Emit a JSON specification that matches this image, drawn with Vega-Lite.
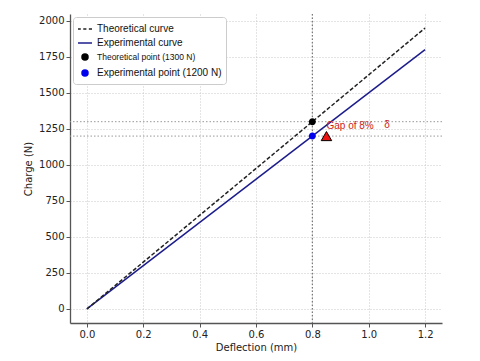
{
  "$schema": "https://vega.github.io/schema/vega-lite/v6.json",
  "width": 372,
  "height": 309,
  "autosize": "none",
  "padding": {"left": 70, "top": 14, "right": 38, "bottom": 38},
  "background": "white",
  "config": {
    "view": {"stroke": null},
    "font": "DejaVu Sans",
    "axis": {
      "labelFont": "DejaVu Sans",
      "labelFontSize": 10,
      "labelColor": "#222222",
      "titleFont": "DejaVu Sans",
      "titleFontSize": 10,
      "titleFontWeight": "normal",
      "titleColor": "#222222",
      "domainColor": "#555555",
      "domainWidth": 1.3,
      "tickColor": "#555555",
      "tickSize": 4,
      "gridColor": "#bbbbbb",
      "gridDash": [1, 2],
      "gridWidth": 0.8
    }
  },
  "datasets": {
    "curves": [
      {"x": 0, "y": 0, "series": "Theoretical curve"},
      {"x": 1.2, "y": 1950, "series": "Theoretical curve"},
      {"x": 0, "y": 0, "series": "Experimental curve"},
      {"x": 1.2, "y": 1800, "series": "Experimental curve"}
    ],
    "points": [
      {"x": 0.8, "y": 1300, "series": "Theoretical point (1300 N)"},
      {"x": 0.8, "y": 1200, "series": "Experimental point (1200 N)"}
    ],
    "hlines": [{"y": 1300}, {"y": 1200}],
    "vlines": [{"x": 0.8}],
    "marker": [{"x": 0.85, "y": 1200}],
    "notes": [{"x": 0.85, "y": 1268, "label": "Gap of 8%"}, {"x": 1.055, "y": 1278, "label": "δ"}]
  },
  "layer": [
    {
      "data": {"name": "curves"},
      "transform": [{"filter": "datum.series == 'Experimental curve'"}],
      "mark": {"type": "line", "strokeWidth": 1.5},
      "encoding": {
        "x": {
          "field": "x", "type": "quantitative", "title": "Deflection (mm)",
          "scale": {"domain": [-0.06, 1.26], "nice": false, "zero": false},
          "axis": {"orient": "bottom", "values": [0, 0.2, 0.4, 0.6, 0.8, 1.0, 1.2], "format": ".1f", "titlePadding": 3}
        },
        "y": {
          "field": "y", "type": "quantitative", "title": "Charge (N)",
          "scale": {"domain": [-97.5, 2047.5], "nice": false, "zero": false},
          "axis": {"orient": "left", "values": [0, 250, 500, 750, 1000, 1250, 1500, 1750, 2000], "format": "d", "titlePadding": 5}
        },
        "color": {
          "field": "series", "type": "nominal",
          "scale": {
            "domain": ["Theoretical curve", "Experimental curve", "Theoretical point (1300 N)", "Experimental point (1200 N)"],
            "range": ["#222222", "#1c1c8c", "#000000", "#0000ee"]
          },
          "legend": {
            "title": null,
            "orient": "top-left",
            "offset": 3,
            "padding": 4,
            "rowPadding": 1,
            "fillColor": "white",
            "strokeColor": "#cccccc",
            "cornerRadius": 3,
            "labelFont": "Liberation Sans",
            "labelFontSize": 10,
            "labelColor": "#111111",
            "labelLimit": 200,
            "labelOffset": 4,
            "symbolSize": 196,
            "symbolStrokeWidth": 1.5,
            "encode": {
              "labels": {"update": {
                "fontSize": [{"test": "datum.label == 'Theoretical point (1300 N)'", "value": 8.5}, {"value": 10}]
              }}
            }
          }
        }
      }
    },
    {
      "data": {"name": "curves"},
      "transform": [{"filter": "datum.series == 'Theoretical curve'"}],
      "mark": {"type": "line", "strokeWidth": 1.5, "strokeDash": [4, 2]},
      "encoding": {
        "x": {"field": "x", "type": "quantitative", "axis": {"values": [0, 0.2, 0.4, 0.6, 0.8, 1.0, 1.2]}},
        "y": {"field": "y", "type": "quantitative", "axis": {"values": [0, 250, 500, 750, 1000, 1250, 1500, 1750, 2000]}},
        "color": {"field": "series", "type": "nominal"}
      }
    },
    {
      "data": {"name": "hlines"},
      "mark": {"type": "rule", "color": "#999999", "strokeDash": [1.5, 2], "strokeWidth": 1},
      "encoding": {"y": {"field": "y", "type": "quantitative", "axis": {"values": [0, 250, 500, 750, 1000, 1250, 1500, 1750, 2000]}}}
    },
    {
      "data": {"name": "vlines"},
      "mark": {"type": "rule", "color": "#777777", "strokeDash": [1.5, 2], "strokeWidth": 1.2},
      "encoding": {"x": {"field": "x", "type": "quantitative", "axis": {"values": [0, 0.2, 0.4, 0.6, 0.8, 1.0, 1.2]}}}
    },
    {
      "data": {"name": "points"},
      "mark": {"type": "point", "filled": true, "size": 265, "opacity": 1},
      "encoding": {
        "x": {"field": "x", "type": "quantitative", "axis": {"values": [0, 0.2, 0.4, 0.6, 0.8, 1.0, 1.2]}},
        "y": {"field": "y", "type": "quantitative", "axis": {"values": [0, 250, 500, 750, 1000, 1250, 1500, 1750, 2000]}},
        "color": {"field": "series", "type": "nominal"},
        "shape": {
          "field": "series", "type": "nominal",
          "scale": {
            "domain": ["Theoretical curve", "Experimental curve", "Theoretical point (1300 N)", "Experimental point (1200 N)"],
            "range": ["M-1,0H-0.6M-0.25,0H0.2M0.55,0H1", "M-1,0H1", "M0.43,0A0.43,0.43 0 1,1 -0.43,0A0.43,0.43 0 1,1 0.43,0Z", "M0.43,0A0.43,0.43 0 1,1 -0.43,0A0.43,0.43 0 1,1 0.43,0Z"]
          },
          "legend": {"title": null}
        }
      }
    },
    {
      "data": {"name": "marker"},
      "mark": {"type": "point", "shape": "triangle-up", "filled": true, "fill": "#ee1111", "stroke": "#000000", "strokeWidth": 1, "size": 110, "opacity": 1},
      "encoding": {
        "x": {"field": "x", "type": "quantitative", "axis": {"values": [0, 0.2, 0.4, 0.6, 0.8, 1.0, 1.2]}},
        "y": {"field": "y", "type": "quantitative", "axis": {"values": [0, 250, 500, 750, 1000, 1250, 1500, 1750, 2000]}}
      }
    },
    {
      "data": {"name": "notes"},
      "mark": {"type": "text", "align": "left", "baseline": "middle", "color": "#cc2222", "font": "Liberation Sans", "fontSize": 10},
      "encoding": {
        "x": {"field": "x", "type": "quantitative", "axis": {"values": [0, 0.2, 0.4, 0.6, 0.8, 1.0, 1.2]}},
        "y": {"field": "y", "type": "quantitative", "axis": {"values": [0, 250, 500, 750, 1000, 1250, 1500, 1750, 2000]}},
        "text": {"field": "label"}
      }
    }
  ]
}
